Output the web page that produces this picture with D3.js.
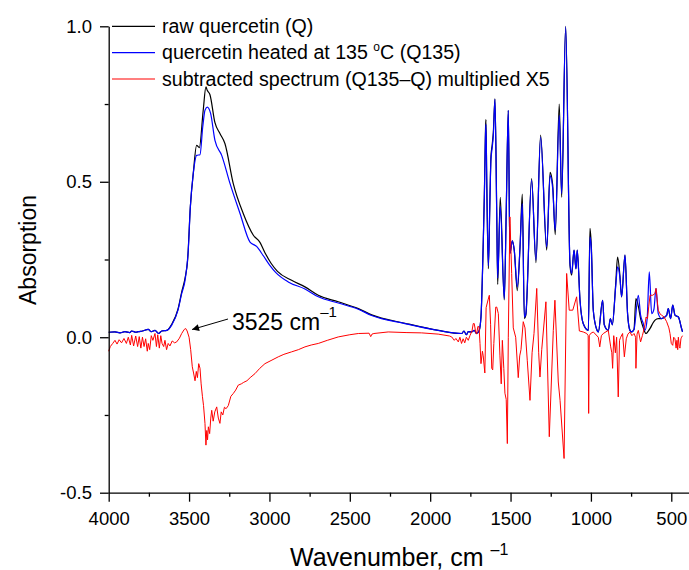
<!DOCTYPE html>
<html><head><meta charset="utf-8">
<script src="https://cdn.jsdelivr.net/npm/d3@7"></script>
<style>
html,body{margin:0;padding:0;background:#fff;}
svg{display:block;font-family:"Liberation Sans",Arial,sans-serif;}
</style></head>
<body><svg id="chart" width="689" height="570"></svg>
<script>
// ---------- data (wavenumber in cm-1, absorption) ----------
const xMajorTicks = [4000,3500,3000,2500,2000,1500,1000,500];
const xMinorTicks = [3750,3250,2750,2250,1750,1250,750];
const yMajorTicks = [-0.5,0.0,0.5,1.0];
const yMinorTicks = [-0.25,0.25,0.75];
const seriesNames = ["raw quercetin (Q)","quercetin heated at 135 \u00B0C (Q135)","subtracted spectrum (Q135\u2013Q) multiplied X5"];
const seriesColors = ["#000000","#0000ff","#ff0000"];

const wnRaw = [4000,3961,3930,3899,3870,3857,3830,3816,3790,3754,3735,3712,3690,3670,3639,3608,3569,3546,3525,3509,3492,3474,3453,3436,3412,3395,3387,3370,3339,3308,3277,3225,3163,3100,3059,3028,2990,2950,2862,2779,2696,2572,2447,2364,2157,1950,1804,1790,1775,1763,1742,1726,1711,1696,1684,1670,1663,1655,1653,1648,1638,1628,1622,1614,1607,1597,1586,1580,1564,1539,1527,1514,1504,1489,1477,1458,1441,1427,1414,1405,1369,1342,1313,1275,1254,1238,1222,1197,1182,1157,1130,1120,1105,1093,1085,1068,1048,1016,1006,998,985,964,954,927,917,892,879,867,846,834,820,809,788,772,757,747,732,720,705,691,674,657,643,630,615,601,581,560,529,519,504,491,477,456,436,430];
const absRaw = [0.016,0.017,0.014,0.018,0.015,0.02,0.016,0.018,0.02,0.025,0.018,0.022,0.012,0.02,0.022,0.042,0.09,0.145,0.19,0.248,0.42,0.526,0.617,0.61,0.73,0.805,0.794,0.78,0.69,0.655,0.623,0.494,0.398,0.328,0.305,0.272,0.238,0.212,0.183,0.162,0.135,0.114,0.092,0.072,0.045,0.022,0.012,0.02,0.008,0.018,0.017,0.022,0.012,0.02,0.065,0.3,0.46,0.68,0.70,0.5,0.22,0.45,0.58,0.62,0.66,0.767,0.4,0.17,0.45,0.12,0.4,0.73,0.27,0.31,0.28,0.15,0.29,0.46,0.06,0.07,0.51,0.24,0.65,0.28,0.53,0.49,0.33,0.75,0.45,1.0,0.23,0.2,0.28,0.22,0.28,0.12,0.044,0.022,0.35,0.3,0.085,0.025,0.017,0.119,0.04,0.022,0.06,0.04,0.17,0.258,0.2,0.13,0.264,0.076,0.022,0.017,0.025,0.124,0.1,0.06,0.03,0.012,0.02,0.03,0.045,0.055,0.06,0.06,0.07,0.092,0.06,0.103,0.071,0.065,0.028,0.017];

const wnHeated = [4000,3961,3930,3899,3870,3857,3830,3816,3790,3754,3735,3712,3690,3670,3639,3608,3569,3546,3525,3505,3492,3474,3453,3432,3415,3401,3387,3366,3339,3297,3245,3183,3121,3080,3038,3000,2960,2883,2779,2696,2572,2447,2364,2157,1950,1804,1790,1775,1763,1742,1726,1711,1696,1684,1670,1663,1655,1653,1648,1638,1628,1622,1614,1607,1597,1586,1580,1564,1539,1527,1514,1504,1489,1477,1458,1441,1427,1414,1405,1369,1342,1313,1275,1254,1238,1222,1197,1182,1157,1130,1120,1105,1093,1085,1068,1048,1016,1006,998,985,964,954,927,917,892,879,867,846,834,820,809,788,772,757,747,732,705,691,674,664,650,637,622,608,595,581,560,529,519,504,491,477,456,436,430];
const absHeated = [0.016,0.017,0.014,0.018,0.015,0.02,0.016,0.018,0.02,0.025,0.018,0.022,0.012,0.02,0.022,0.039,0.087,0.14,0.183,0.28,0.42,0.526,0.585,0.587,0.676,0.73,0.74,0.72,0.633,0.585,0.494,0.398,0.306,0.292,0.262,0.233,0.208,0.178,0.155,0.13,0.11,0.09,0.07,0.044,0.022,0.012,0.02,0.008,0.018,0.017,0.022,0.012,0.02,0.065,0.3,0.45,0.665,0.685,0.5,0.23,0.45,0.57,0.61,0.65,0.765,0.4,0.19,0.42,0.124,0.4,0.73,0.27,0.31,0.28,0.162,0.29,0.43,0.065,0.076,0.505,0.248,0.644,0.29,0.52,0.48,0.344,0.714,0.462,0.998,0.237,0.205,0.28,0.22,0.28,0.12,0.044,0.022,0.323,0.29,0.085,0.025,0.017,0.119,0.04,0.022,0.06,0.04,0.162,0.226,0.194,0.13,0.264,0.076,0.022,0.017,0.025,0.135,0.071,0.044,0.022,0.06,0.21,0.076,0.09,0.157,0.076,0.06,0.07,0.092,0.06,0.103,0.071,0.065,0.028,0.017];

const wnDiff = [4000,3990,3975,3961,3948,3935,3920,3905,3890,3878,3865,3857,3845,3832,3820,3810,3800,3790,3780,3770,3760,3754,3745,3735,3725,3712,3703,3695,3685,3676,3668,3658,3650,3640,3630,3619,3605,3590,3577,3560,3546,3530,3521,3512,3500,3490,3480,3472,3463,3455,3448,3440,3432,3425,3417,3410,3401,3395,3390,3385,3380,3372,3365,3359,3350,3340,3328,3318,3308,3300,3290,3280,3270,3256,3240,3225,3210,3194,3175,3160,3140,3120,3090,3060,3028,2990,2945,2910,2862,2820,2779,2740,2696,2640,2572,2500,2447,2380,2370,2362,2350,2261,2150,2053,1950,1880,1866,1850,1840,1825,1815,1805,1795,1785,1775,1763,1752,1740,1732,1726,1718,1711,1703,1696,1690,1684,1675,1670,1660,1652,1640,1632,1624,1617,1611,1604,1592,1586,1576,1566,1558,1551,1542,1535,1527,1520,1514,1504,1493,1483,1468,1452,1443,1435,1421,1410,1396,1379,1366,1354,1337,1325,1317,1306,1280,1259,1234,1224,1203,1192,1167,1151,1135,1113,1089,1072,1048,1026,1017,1014,1010,1002,985,954,945,935,923,892,877,870,865,858,848,840,830,822,815,803,792,780,770,757,745,732,722,720,713,705,691,680,674,664,657,648,640,632,616,602,595,588,581,570,560,545,529,515,508,500,491,485,477,470,465,460,456,450,446,440,436,430];
const absDiff = [-0.045,-0.03,-0.02,-0.01,-0.022,-0.008,-0.018,-0.004,-0.02,0.0,-0.025,0.006,-0.028,0.004,-0.03,0.002,-0.035,0.0,-0.03,-0.005,-0.045,-0.02,-0.04,0.005,-0.01,0.012,-0.03,0.008,-0.035,0.005,-0.02,-0.03,-0.01,-0.04,-0.02,-0.028,-0.012,-0.018,-0.015,-0.003,0.012,0.025,0.028,0.02,0.0,-0.04,-0.095,-0.115,-0.14,-0.11,-0.13,-0.085,-0.1,-0.15,-0.19,-0.22,-0.277,-0.347,-0.3,-0.33,-0.288,-0.31,-0.26,-0.235,-0.27,-0.24,-0.224,-0.26,-0.277,-0.24,-0.25,-0.225,-0.23,-0.22,-0.19,-0.181,-0.17,-0.154,-0.15,-0.145,-0.14,-0.13,-0.117,-0.1,-0.085,-0.075,-0.063,-0.055,-0.047,-0.04,-0.031,-0.025,-0.02,-0.01,0.001,0.008,0.012,0.013,0.002,0.01,0.012,0.017,0.015,0.014,0.01,0.004,0.001,-0.01,-0.004,-0.015,0.0,-0.02,-0.005,-0.018,0.0,-0.01,0.006,0.02,0.044,0.044,0.02,0.01,0.035,0.033,-0.02,-0.085,-0.045,-0.06,-0.115,0.095,0.12,0.135,0.04,-0.1,-0.105,-0.02,0.097,0.097,0.076,-0.06,-0.15,-0.01,-0.1,-0.18,-0.2,-0.342,0.0,0.387,0.205,0.03,0.0,-0.13,-0.06,-0.04,0.05,0.03,-0.074,-0.203,-0.05,0.012,0.157,-0.05,-0.128,-0.04,0.114,-0.32,0.022,0.119,-0.144,-0.203,-0.39,0.205,0.087,0.087,0.13,0.02,0.017,0.012,0.005,-0.245,0.005,0.012,0.017,0.0,-0.031,0.005,0.012,0.022,-0.031,-0.05,-0.1,0.005,-0.05,0.0,-0.192,-0.01,0.0,0.012,-0.063,-0.005,0.01,0.017,0.005,0.012,0.0,-0.1,0.01,0.022,-0.015,0.005,0.017,0.04,0.065,0.06,0.1,0.135,0.135,0.14,0.157,0.12,0.087,0.075,0.071,0.065,0.05,0.03,0.012,-0.02,-0.026,0.0,-0.005,-0.035,-0.01,-0.04,0.0,-0.03,-0.035,-0.005,0.0,0.005];

// ---------- chart ----------
const svg = d3.select("#chart");
const FONT = '"Liberation Sans",Arial,sans-serif';
const x = d3.scaleLinear().domain([4000, 389.8]).range([108.7, 689]);
const y = d3.scaleLinear().domain([-0.5, 1.0]).range([492.7, 26.3]);

function series(wn, ab){ return wn.map((w,i)=>[w, ab[i]]); }
const smooth = d3.line().x(d=>x(d[0])).y(d=>y(d[1])).curve(d3.curveMonotoneX);
const sharp = d3.line().x(d=>x(d[0])).y(d=>y(d[1]));

const plot = svg.append("g");
plot.append("path").attr("d", smooth(series(wnRaw, absRaw))).attr("fill","none").attr("stroke",seriesColors[0]).attr("stroke-width",1.2).attr("stroke-linejoin","round");
plot.append("path").attr("d", smooth(series(wnHeated, absHeated))).attr("fill","none").attr("stroke",seriesColors[1]).attr("stroke-width",1.2).attr("stroke-linejoin","round");
plot.append("path").attr("d", sharp(series(wnDiff, absDiff))).attr("fill","none").attr("stroke",seriesColors[2]).attr("stroke-width",1).attr("stroke-linejoin","round");

// axes
const gx = svg.append("g").attr("transform",`translate(0,${y(-0.5)})`);
gx.call(d3.axisBottom(x).tickValues(xMajorTicks).tickSize(9).tickSizeOuter(0).tickPadding(10).tickFormat(d3.format("d")));
const gxm = svg.append("g").attr("transform",`translate(0,${y(-0.5)})`);
gxm.call(d3.axisBottom(x).tickValues(xMinorTicks).tickSize(4).tickSizeOuter(0).tickFormat(""));
gxm.select(".domain").remove();

const gy = svg.append("g").attr("transform",`translate(${x(4000)},0)`);
gy.call(d3.axisLeft(y).tickValues(yMajorTicks).tickSize(8.7).tickSizeOuter(0).tickPadding(8).tickFormat(d=>d.toFixed(1)));
const gym = svg.append("g").attr("transform",`translate(${x(4000)},0)`);
gym.call(d3.axisLeft(y).tickValues(yMinorTicks).tickSize(4).tickSizeOuter(0).tickFormat(""));
gym.select(".domain").remove();

svg.selectAll(".domain, .tick line").attr("stroke","#000").attr("stroke-width",1.3);
svg.selectAll(".tick text").attr("font-family",FONT).attr("font-size",18.5).attr("fill","#000");

// axis titles
const xt = svg.append("text").attr("x",290).attr("y",566).attr("font-family",FONT).attr("font-size",25).attr("fill","#000");
xt.append("tspan").text("Wavenumber, cm ");
xt.append("tspan").attr("font-size",16).attr("dy",-11).text("\u20131");

svg.append("text").attr("transform","translate(36,250) rotate(-90)").attr("text-anchor","middle")
  .attr("font-family",FONT).attr("font-size",23).attr("fill","#000").text("Absorption");

// legend
const legY = [26.3, 52.6, 79];
seriesNames.forEach((nm,i)=>{
  svg.append("line").attr("x1",112).attr("x2",155).attr("y1",legY[i]).attr("y2",legY[i])
    .attr("stroke",seriesColors[i]).attr("stroke-width",1.2);
  const t = svg.append("text").attr("x",162).attr("y",legY[i]).attr("dy","0.35em")
    .attr("font-family",FONT).attr("font-size",19.6).attr("fill","#000");
  if(i===1){
    t.append("tspan").text("quercetin heated at 135 ");
    t.append("tspan").attr("font-size",12).attr("dy",-8).text("o");
    t.append("tspan").attr("dy",8).text("C (Q135)");
  } else t.text(nm);
});

// annotation
svg.append("defs").append("marker").attr("id","ah").attr("viewBox","0 0 10 10").attr("refX",10).attr("refY",5)
  .attr("markerWidth",11).attr("markerHeight",7).attr("markerUnits","userSpaceOnUse").attr("orient","auto")
  .append("path").attr("d","M0,0 L10,5 L0,10 z").attr("fill","#000");
svg.append("line").attr("x1",228).attr("y1",319).attr("x2",x(3500)+3).attr("y2",329.5)
  .attr("stroke","#000").attr("stroke-width",1).attr("marker-end","url(#ah)");
const at = svg.append("text").attr("x",232).attr("y",330).attr("font-family",FONT).attr("font-size",23).attr("fill","#000");
at.append("tspan").text("3525 cm");
at.append("tspan").attr("font-size",15).attr("dy",-13).text("\u20131");
</script></body></html>
